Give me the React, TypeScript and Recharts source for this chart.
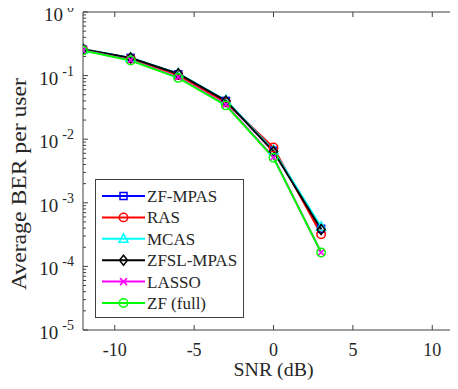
import { LineChart, Line, XAxis, YAxis, Legend, Label } from 'recharts';

// SNR points (dB)
const snr = [-12, -9, -6, -3, 0, 3];

// average BER per user, one array per scheme
const zfMpas = [0.255, 0.19, 0.105, 0.04, 0.0066, 0.00039];
const ras = [0.255, 0.185, 0.102, 0.038, 0.0074, 0.00032];
const mcas = [0.26, 0.19, 0.108, 0.041, 0.0067, 0.00042];
const zfslMpas = [0.26, 0.19, 0.107, 0.04, 0.0064, 0.00038];
const lasso = [0.25, 0.175, 0.094, 0.035, 0.0052, 0.000165];
const zfFull = [0.248, 0.173, 0.092, 0.034, 0.0051, 0.000165];

const xTicks = [-10, -5, 0, 5, 10];
const yMajor = [1e-5, 1e-4, 1e-3, 1e-2, 1e-1, 1];
const yTicks: number[] = [];
for (let d = -5; d <= 0; d++) {
  yTicks.push(Math.pow(10, d));
  if (d < 0) for (let k = 2; k <= 9; k++) yTicks.push(k * Math.pow(10, d));
}

const data = snr.map((s, i) => ({
  snr: s,
  zfMpas: zfMpas[i],
  ras: ras[i],
  mcas: mcas[i],
  zfslMpas: zfslMpas[i],
  lasso: lasso[i],
  zfFull: zfFull[i],
}));

type MarkerKind = 'square' | 'circle' | 'triangle' | 'diamond' | 'x';

const series: { key: string; name: string; color: string; marker: MarkerKind }[] = [
  { key: 'zfMpas', name: 'ZF-MPAS', color: '#0000ff', marker: 'square' },
  { key: 'ras', name: 'RAS', color: '#ff0000', marker: 'circle' },
  { key: 'mcas', name: 'MCAS', color: '#00ffff', marker: 'triangle' },
  { key: 'zfslMpas', name: 'ZFSL-MPAS', color: '#000000', marker: 'diamond' },
  { key: 'lasso', name: 'LASSO', color: '#ff00ff', marker: 'x' },
  { key: 'zfFull', name: 'ZF (full)', color: '#00ff00', marker: 'circle' },
];

const FONT = 'Liberation Serif';
const AXIS = '#404040';
const TEXT = '#262626';
const txt = { fontFamily: FONT };

function Marker({ kind, cx, cy, color }: { kind: MarkerKind; cx: number; cy: number; color: string }) {
  const p = { fill: 'none', stroke: color, strokeWidth: 1.5 };
  switch (kind) {
    case 'square':
      return <rect x={cx - 3.5} y={cy - 3.5} width={7} height={7} {...p} />;
    case 'circle':
      return <circle cx={cx} cy={cy} r={4.2} {...p} />;
    case 'triangle':
      return <polygon points={`${cx},${cy - 5} ${cx - 4.5},${cy + 3.5} ${cx + 4.5},${cy + 3.5}`} {...p} />;
    case 'diamond':
      return <polygon points={`${cx},${cy - 5} ${cx + 4},${cy} ${cx},${cy + 5} ${cx - 4},${cy}`} {...p} />;
    default:
      return (
        <path
          d={`M${cx - 3.5},${cy - 3.5}L${cx + 3.5},${cy + 3.5}M${cx + 3.5},${cy - 3.5}L${cx - 3.5},${cy + 3.5}`}
          {...p}
        />
      );
  }
}

const isMajor = (v: number) => yMajor.some((m) => Math.abs(m - v) / m < 1e-6);

function YTick(props: any) {
  const { x, y, payload } = props;
  const v = payload.value as number;
  if (!isMajor(v)) {
    return <line x1={x} y1={y} x2={x + 3} y2={y} stroke={AXIS} />;
  }
  const exp = Math.round(Math.log10(v));
  return (
    <g>
      <line x1={x} y1={y} x2={x + 5} y2={y} stroke={AXIS} />
      <text x={x - 9} y={y + 9} textAnchor="end" style={txt} fill={TEXT} fontSize={19}>
        <tspan>10</tspan>
        <tspan dx={4} dy={-9} fontSize={14}>
          {exp}
        </tspan>
      </text>
    </g>
  );
}

function XTickBottom(props: any) {
  const { x, y, payload } = props;
  return (
    <g>
      <line x1={x} y1={y} x2={x} y2={y - 5} stroke={AXIS} />
      <text x={x} y={y + 26} textAnchor="middle" style={txt} fill={TEXT} fontSize={18}>
        {payload.value}
      </text>
    </g>
  );
}

function XTickTop(props: any) {
  const { x, y } = props;
  return <line x1={x} y1={y} x2={x} y2={y + 5} stroke={AXIS} />;
}

function LegendBox() {
  return (
    <div style={{ width: 149, height: 139, background: '#fff', border: `1px solid ${AXIS}`, boxSizing: 'border-box' }}>
      <svg width={147} height={137} style={{ display: 'block' }}>
        {series.map((s, i) => {
          const cy = 16 + i * 21.4;
          return (
            <g key={s.key}>
              <line x1={6} y1={cy} x2={49} y2={cy} stroke={s.color} strokeWidth={2} />
              <Marker kind={s.marker} cx={27.5} cy={cy} color={s.color} />
              <text x={51} y={cy + 6} style={txt} fontSize={17} fill={TEXT}>
                {s.name}
              </text>
            </g>
          );
        })}
      </svg>
    </div>
  );
}

export default function App() {
  return (
    <div style={{ width: 458, height: 389, margin: -8, overflow: 'hidden', position: 'relative' }}>
      <LineChart width={478} height={389} data={data} margin={{ top: 0, right: 14, bottom: 0, left: 0 }}>
        <XAxis
          dataKey="snr"
          type="number"
          domain={[-12, 12]}
          ticks={xTicks}
          interval={0}
          height={59}
          tickSize={0}
          tickMargin={0}
          tickLine={false}
          axisLine={{ stroke: AXIS }}
          tick={<XTickBottom />}
          allowDataOverflow
        >
          <Label
            content={(p: any) => {
              const vb = p.viewBox;
              return (
                <text
                  x={vb.x + vb.width / 2}
                  y={vb.y + 46}
                  textAnchor="middle"
                  style={txt}
                  fontSize={19}
                  fill={TEXT}
                  textLength={80}
                  lengthAdjust="spacingAndGlyphs"
                >
                  SNR (dB)
                </text>
              );
            }}
          />
        </XAxis>
        <XAxis
          xAxisId="top"
          orientation="top"
          dataKey="snr"
          type="number"
          domain={[-12, 12]}
          ticks={xTicks}
          interval={0}
          height={12}
          tickSize={0}
          tickMargin={0}
          tickLine={false}
          axisLine={{ stroke: AXIS }}
          tick={<XTickTop />}
          allowDataOverflow
        />
        <YAxis
          scale="log"
          domain={[1e-5, 1]}
          ticks={yTicks}
          interval={0}
          width={83}
          tickSize={0}
          tickMargin={0}
          tickLine={false}
          axisLine={{ stroke: AXIS }}
          tick={<YTick />}
          allowDataOverflow
        >
          <Label
            content={(p: any) => {
              const vb = p.viewBox;
              const cx = vb.x + 19;
              const cy = vb.y + vb.height / 2 + 13;
              return (
                <text
                  x={cx}
                  y={cy}
                  transform={`rotate(-90 ${cx} ${cy})`}
                  textAnchor="middle"
                  dominantBaseline="central"
                  style={txt}
                  fontSize={20}
                  fill={TEXT}
                  textLength={212}
                  lengthAdjust="spacingAndGlyphs"
                >
                  Average BER per user
                </text>
              );
            }}
          />
        </YAxis>
        {series.map((s) => (
          <Line
            key={s.key}
            type="linear"
            dataKey={s.key}
            name={s.name}
            stroke={s.color}
            strokeWidth={2}
            isAnimationActive={false}
            dot={(d: any) => <Marker key={`${s.key}-${d.index}`} kind={s.marker} cx={d.cx} cy={d.cy} color={s.color} />}
            activeDot={false}
          />
        ))}
        <Legend
          layout="horizontal"
          verticalAlign="middle"
          align="center"
          content={() => <LegendBox />}
          wrapperStyle={{ position: 'absolute', left: 95, top: 179, width: 149, height: 139 }}
        />
      </LineChart>
    </div>
  );
}
